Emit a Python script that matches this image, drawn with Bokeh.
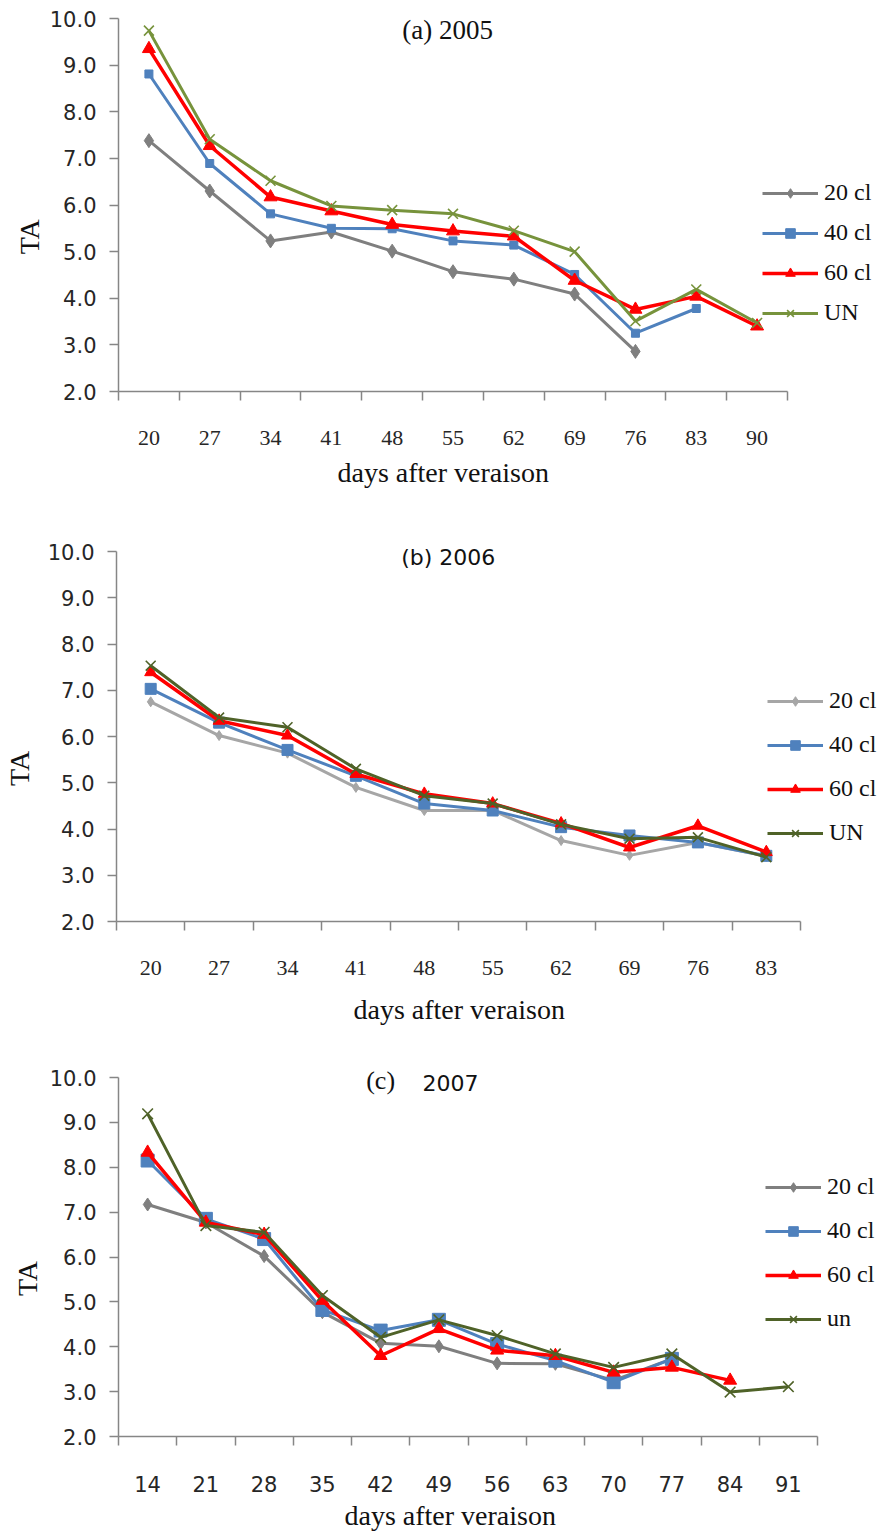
import math

from bokeh.plotting import figure
from bokeh.models import (Range1d, FixedTicker, Legend, LegendItem, Label, Title,
                          NumeralTickFormatter)
from bokeh.layouts import column, row
from bokeh.embed import file_html
from bokeh.resources import INLINE

SERIF = "Liberation Serif"
SANS = "DejaVu Sans"

# ---- titratable acidity (TA) by days after veraison ----
days_2005 = [20, 27, 34, 41, 48, 55, 62, 69, 76, 83, 90]
ta_2005_20cl = [7.38, 6.30, 5.23, 5.42, 5.01, 4.57, 4.41, 4.09, 2.86]
ta_2005_40cl = [8.81, 6.89, 5.81, 5.50, 5.49, 5.23, 5.14, 4.51, 3.25, 3.78]
ta_2005_60cl = [9.35, 7.27, 6.17, 5.87, 5.58, 5.44, 5.33, 4.38, 3.76, 4.04, 3.40]
ta_2005_un = [9.74, 7.41, 6.52, 5.98, 5.89, 5.81, 5.45, 5.00, 3.51, 4.19, 3.47]

days_2006 = [20, 27, 34, 41, 48, 55, 62, 69, 76, 83]
ta_2006_20cl = [6.75, 6.02, 5.64, 4.90, 4.40, 4.40, 3.75, 3.43, 3.71, 3.41]
ta_2006_40cl = [7.03, 6.30, 5.71, 5.15, 4.55, 4.40, 4.04, 3.86, 3.71, 3.42]
ta_2006_60cl = [7.39, 6.34, 6.02, 5.19, 4.76, 4.55, 4.12, 3.60, 4.07, 3.50]
ta_2006_un = [7.53, 6.41, 6.20, 5.30, 4.72, 4.55, 4.10, 3.79, 3.82, 3.39]

days_2007 = [14, 21, 28, 35, 42, 49, 56, 63, 70, 77, 84, 91]
ta_2007_20cl = [7.17, 6.77, 6.02, 4.77, 4.08, 4.01, 3.63, 3.62, 3.25, 3.73]
ta_2007_40cl = [8.15, 6.85, 6.40, 4.82, 4.36, 4.60, 4.06, 3.69, 3.21, 3.73]
ta_2007_60cl = [8.33, 6.77, 6.50, 5.03, 3.80, 4.40, 3.92, 3.80, 3.43, 3.54, 3.25]
ta_2007_un = [9.19, 6.70, 6.55, 5.14, 4.21, 4.60, 4.25, 3.84, 3.54, 3.84, 2.99, 3.11]

ta_ticks = [2, 3, 4, 5, 6, 7, 8, 9, 10]
TA_MIN, TA_MAX = 2, 10

PAGE_W = 889
STRIP_W = 44          # narrow strip on the left holding the "TA" caption
AXIS_GREY = "#868686"
BLUE = "#4f81bd"
RED = "#ff0000"
INK = "#111111"


def make_panel(days, series, height, top, frame_h, left, frame_w,
               xtick_font, legend_xy, legend_spacing,
               ta_pos, xlabel_offset, xlabel_standoff):
    n = len(days)
    plot_w = PAGE_W - STRIP_W
    border_bottom = height - top - frame_h
    # the drawing area runs to the right and top edges so that the legend and
    # panel caption have room; the axes themselves stop at the data extent
    cat_w = frame_w / n
    px_per_unit = frame_h / (TA_MAX - TA_MIN)
    x_end = -0.5 + (PAGE_W - left) / cat_w
    y_end = TA_MAX + top / px_per_unit
    y_range = Range1d(TA_MIN, y_end)

    p = figure(width=plot_w, height=height, output_backend="svg", toolbar_location=None,
               x_range=Range1d(-0.5, x_end), y_range=y_range,
               min_border_left=left - STRIP_W, min_border_right=0,
               min_border_top=0, min_border_bottom=border_bottom)
    p.grid.visible = False
    p.outline_line_color = None
    p.background_fill_color = "white"
    p.border_fill_color = "white"

    # value axis
    ya = p.yaxis[0]
    ya.bounds = (TA_MIN, TA_MAX)
    ya.ticker = FixedTicker(ticks=ta_ticks)
    ya.formatter = NumeralTickFormatter(format="0.0")
    ya.major_tick_out = 9
    ya.major_tick_in = 0
    ya.minor_tick_line_color = None
    ya.axis_line_color = AXIS_GREY
    ya.axis_line_width = 1.5
    ya.major_tick_line_color = AXIS_GREY
    ya.major_tick_line_width = 1.5
    ya.major_label_text_font = SANS
    ya.major_label_text_font_size = "21px"
    ya.major_label_text_color = "#262626"
    ya.major_label_standoff = 13

    # category axis: labels at centres, tick marks between categories
    xa = p.xaxis[0]
    xa.bounds = (-0.5, n - 0.5)
    xa.ticker = FixedTicker(ticks=list(range(n)),
                            minor_ticks=[i - 0.5 for i in range(n + 1)])
    xa.major_label_overrides = {i: str(d) for i, d in enumerate(days)}
    xa.major_tick_line_color = None
    xa.major_tick_out = 0
    xa.major_tick_in = 0
    xa.minor_tick_out = 9
    xa.minor_tick_in = 0
    xa.minor_tick_line_color = AXIS_GREY
    xa.minor_tick_line_width = 1.5
    xa.axis_line_color = AXIS_GREY
    xa.axis_line_width = 1.5
    xa.major_label_text_font = xtick_font[0]
    xa.major_label_text_font_size = xtick_font[1]
    xa.major_label_text_color = "#262626"
    xa.major_label_standoff = 30

    # x-axis title, placed along the axis rather than centred on the frame
    p.add_layout(Title(text="days after veraison", align="left", offset=xlabel_offset,
                       standoff=xlabel_standoff, vertical_align="middle",
                       text_font=SERIF, text_font_size="28px",
                       text_font_style="normal", text_color=INK), "below")

    items = []
    for label, vals, color, marker, msize, lw in series:
        xs = list(range(len(vals)))
        ln = p.line(xs, vals, line_color=color, line_width=lw)
        if marker == "x":
            mk = p.scatter(xs, vals, marker="x", size=msize, line_color=color,
                           line_width=1.6)
        else:
            mk = p.scatter(xs, vals, marker=marker, size=msize, fill_color=color,
                           line_color=color, line_width=1)
        items.append(LegendItem(label=label, renderers=[ln, mk]))

    legend = Legend(items=items, location=(legend_xy[0], legend_xy[1]),
                    orientation="vertical",
                    glyph_width=56, glyph_height=24, label_height=24,
                    label_standoff=6, spacing=legend_spacing, padding=0, margin=0,
                    background_fill_alpha=0, border_line_alpha=0,
                    label_text_font=SERIF, label_text_font_size="24px",
                    label_text_color=INK, label_text_baseline="middle")
    p.add_layout(legend)

    # strip with the y-axis title, sharing the panel's vertical scale
    s = figure(width=STRIP_W, height=height, output_backend="svg", toolbar_location=None,
               x_range=Range1d(0, 1), y_range=y_range,
               x_axis_type=None, y_axis_type=None,
               min_border_left=0, min_border_right=0,
               min_border_top=0, min_border_bottom=border_bottom)
    s.grid.visible = False
    s.outline_line_color = None
    s.add_layout(Label(x=ta_pos[0], y=ta_pos[1], x_units="screen", text="TA",
                       angle=math.pi / 2, text_font=SERIF, text_font_size="28px",
                       text_color=INK, text_align="center", text_baseline="middle"))
    return p, row(s, p, spacing=0)


# (a) 2005
pa, ra = make_panel(
    days_2005,
    [("20 cl", ta_2005_20cl, "#7f7f7f", "diamond", 14, 3),
     ("40 cl", ta_2005_40cl, BLUE, "square", 8, 3),
     ("60 cl", ta_2005_60cl, RED, "triangle", 13, 3.5),
     ("UN", ta_2005_un, "#77933c", "x", 14, 3)],
    height=505, top=18, frame_h=373, left=118, frame_w=669,
    xtick_font=(SERIF, "22px"), legend_xy=(644, 65), legend_spacing=13,
    ta_pos=(29, 5.32), xlabel_offset=219, xlabel_standoff=16)
pa.add_layout(Label(x=4.91, y=9.75, text="(a) 2005", text_font=SERIF,
                    text_font_size="27px", text_color=INK,
                    text_align="center", text_baseline="middle"))

# (b) 2006
pb, rb = make_panel(
    days_2006,
    [("20 cl", ta_2006_20cl, "#a6a6a6", "diamond", 10, 3),
     ("40 cl", ta_2006_40cl, BLUE, "square", 11, 3),
     ("60 cl", ta_2006_60cl, RED, "triangle", 12, 3.5),
     ("UN", ta_2006_un, "#4f6228", "x", 14, 3)],
    height=535, top=46, frame_h=370, left=116, frame_w=684,
    xtick_font=(SERIF, "22px"), legend_xy=(651, 75), legend_spacing=17,
    ta_pos=(19, 5.31), xlabel_offset=237, xlabel_standoff=30)
pb.add_layout(Label(x=4.35, y=9.86, text="(b) 2006", text_font=SANS,
                    text_font_size="22px", text_color=INK,
                    text_align="center", text_baseline="middle"))

# (c) 2007
pc, rc = make_panel(
    days_2007,
    [("20 cl", ta_2007_20cl, "#7f7f7f", "diamond", 13, 3),
     ("40 cl", ta_2007_40cl, BLUE, "square", 13, 3),
     ("60 cl", ta_2007_60cl, RED, "triangle", 13, 3.5),
     ("un", ta_2007_un, "#4f6228", "x", 15, 3)],
    height=496, top=37, frame_h=359, left=118, frame_w=699,
    xtick_font=(SANS, "21px"), legend_xy=(647, 104), legend_spacing=17,
    ta_pos=(27, 5.52), xlabel_offset=226, xlabel_standoff=8)
pc.add_layout(Label(x=4.0, y=9.93, text="(c)", text_font=SERIF,
                    text_font_size="26px", text_color=INK,
                    text_align="center", text_baseline="middle"))
pc.add_layout(Label(x=5.2, y=9.88, text="2007", text_font=SANS,
                    text_font_size="22px", text_color=INK,
                    text_align="center", text_baseline="middle"))

layout = column(ra, rb, rc, spacing=0)
open("out.html", "w").write(file_html(layout, INLINE))
